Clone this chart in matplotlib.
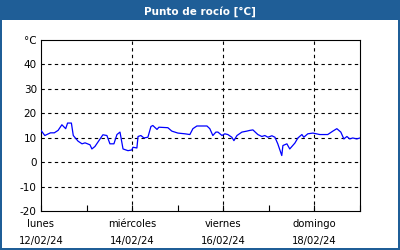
from datetime import datetime, timedelta
import matplotlib
matplotlib.use("Agg")
import matplotlib.pyplot as plt
from matplotlib.patches import Rectangle

# horas desde 12/02/24 00:00 y punto de rocio
horas = [0, 2, 5, 7, 9, 11, 13, 14, 16, 17, 19.5, 21.6, 23.2, 25.8, 26.8, 28.4,
         30.5, 32.6, 34.7, 36.3, 38.4, 40, 41.6, 43.2, 45.8, 47.9, 48.4, 50.5,
         51.1, 52.6, 54.2, 56.3, 57.9, 58.9, 61.1, 62.1, 66.8, 68.9, 72.1, 75.8,
         78.4, 80, 82.1, 83.7, 87.4, 88.9, 90.5, 92.1, 93.2, 95.3, 96.8, 98.4,
         100.5, 101.6, 103.2, 105.8, 108.4, 110, 111.6, 114.2, 116.3, 117.9,
         119.5, 121.6, 123.2, 124.7, 125.8, 126.8, 127.4, 129.5, 131, 133.7,
         135.3, 137.4, 138.4, 140.5, 143.2, 146.8, 151, 153.7, 155.8, 157.9,
         159.5, 161.1, 162.6, 164.2, 166.3, 168]
rocio = [13.0, 10.9, 12.0, 12.0, 13.0, 15.3, 13.7, 16.0, 16.0, 10.9, 8.6, 7.5,
         7.9, 7.1, 5.4, 6.4, 8.8, 11.2, 10.9, 7.5, 7.5, 11.3, 12.3, 5.4, 4.7,
         5.0, 6.1, 5.8, 10.5, 10.9, 9.9, 10.2, 14.6, 15.0, 13.4, 14.3, 14.1,
         12.7, 11.9, 11.6, 11.3, 13.7, 14.8, 14.8, 14.8, 13.7, 10.9, 12.3, 12.3,
         10.9, 11.6, 11.3, 10.2, 8.8, 10.9, 12.3, 12.7, 13.0, 13.2, 11.3, 10.5,
         10.9, 10.2, 10.8, 10.2, 7.5, 5.0, 2.7, 6.8, 7.5, 5.4, 7.8, 9.9, 11.3,
         10.2, 11.6, 11.9, 11.3, 11.3, 12.7, 13.7, 12.3, 9.5, 10.5, 9.5, 9.9,
         9.5, 9.9]

inicio = datetime(2024, 2, 12)
dias = ["lunes", "miércoles", "viernes", "domingo"]
fechas = [inicio + timedelta(hours=h) for h in horas]

azul = "#1f5e97"
fig = plt.figure(figsize=(4, 2.5), dpi=100)
fig.patch.set_facecolor(azul)
fig.patches.append(Rectangle((2 / 400, 2 / 250), 396 / 400, 228 / 250,
                             transform=fig.transFigure, facecolor="white",
                             edgecolor="none", zorder=-10))
fig.text(0.5, 0.955, "Punto de rocío [°C]", color="white", fontsize=7.5,
         fontweight="bold", ha="center", va="center")

ax = fig.add_axes([41 / 400, 39 / 250, 319 / 400, 171 / 250], zorder=2)
ax.plot(fechas, rocio, color="#0000ff", lw=0.9, zorder=3)

ax.set_xlim(inicio, inicio + timedelta(days=7))
ax.set_ylim(-20, 50)
ax.set_yticks([-20, -10, 0, 10, 20, 30, 40, 50])
ax.set_yticklabels(["-20", "-10", "0", "10", "20", "30", "40", "°C"])
ax.tick_params(axis="y", length=0, pad=3, labelsize=7.5)

mayores = [inicio + timedelta(days=2 * i) for i in range(4)]
ax.set_xticks(mayores)
ax.set_xticklabels([d + "\n" + f.strftime("%d/%m/%y") for d, f in zip(dias, mayores)],
                   linespacing=1.85)
ax.set_xticks([inicio + timedelta(days=2 * i + 1) for i in range(4)], minor=True)
ax.tick_params(axis="x", which="both", direction="in", length=4, width=0.8,
               labelsize=7.2, pad=6)

for v in [-10, 0, 10, 20, 30, 40]:
    ax.axhline(v, color="black", lw=0.8, ls=(0, (3, 3)), zorder=1)
for f in mayores[1:]:
    ax.axvline(f, color="black", lw=0.8, ls=(0, (3, 3)), zorder=1)

for s in ax.spines.values():
    s.set_linewidth(0.8)

fig.savefig("out.png", dpi=100, facecolor=fig.get_facecolor())
